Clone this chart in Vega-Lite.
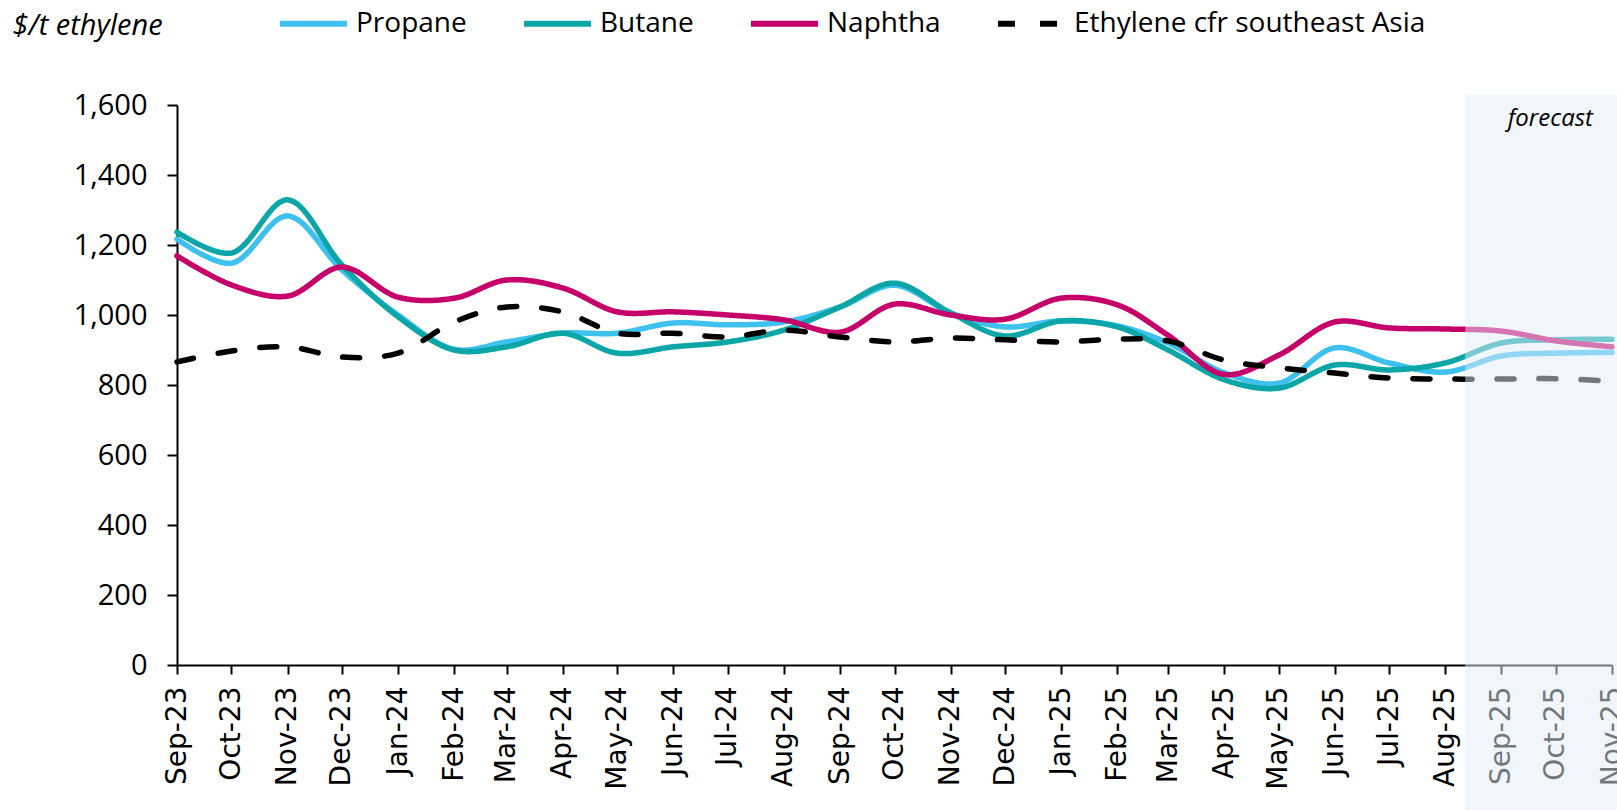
{
  "$schema": "https://vega.github.io/schema/vega-lite/v6.json",
  "autosize": "none",
  "width": 1435,
  "height": 560,
  "padding": {"left": 177, "top": 105, "right": 5, "bottom": 145},
  "background": "white",
  "config": {
    "view": {"stroke": null},
    "font": "Open Sans",
    "axis": {"grid": false, "domainColor": "#000000", "domainWidth": 2, "tickColor": "#000000", "tickWidth": 2, "labelColor": "#000000"},
    "axisX": {"labelFont": "DejaVu Sans", "labelFontSize": 28},
    "axisY": {"labelFont": "Open Sans", "labelFontSize": 29}
  },
  "resolve": {"axis": {"x": "independent", "y": "independent"}},
  "layer": [
    {
      "data": {"values": [
        {"d":"2023-09-01","s":"Propane","v":1217},{"d":"2023-10-01","s":"Propane","v":1148},{"d":"2023-11-01","s":"Propane","v":1283},{"d":"2023-12-01","s":"Propane","v":1129},{"d":"2024-01-01","s":"Propane","v":1000},{"d":"2024-02-01","s":"Propane","v":902},{"d":"2024-03-01","s":"Propane","v":923},{"d":"2024-04-01","s":"Propane","v":948},{"d":"2024-05-01","s":"Propane","v":948},{"d":"2024-06-01","s":"Propane","v":977},{"d":"2024-07-01","s":"Propane","v":972},{"d":"2024-08-01","s":"Propane","v":980},{"d":"2024-09-01","s":"Propane","v":1023},{"d":"2024-10-01","s":"Propane","v":1085},{"d":"2024-11-01","s":"Propane","v":1006},{"d":"2024-12-01","s":"Propane","v":966},{"d":"2025-01-01","s":"Propane","v":983},{"d":"2025-02-01","s":"Propane","v":969},{"d":"2025-03-01","s":"Propane","v":920},{"d":"2025-04-01","s":"Propane","v":835},{"d":"2025-05-01","s":"Propane","v":805},{"d":"2025-06-01","s":"Propane","v":906},{"d":"2025-07-01","s":"Propane","v":863},{"d":"2025-08-01","s":"Propane","v":837},{"d":"2025-09-01","s":"Propane","v":883},{"d":"2025-10-01","s":"Propane","v":891},{"d":"2025-11-01","s":"Propane","v":893},
        {"d":"2023-09-01","s":"Butane","v":1237},{"d":"2023-10-01","s":"Butane","v":1177},{"d":"2023-11-01","s":"Butane","v":1329},{"d":"2023-12-01","s":"Butane","v":1143},{"d":"2024-01-01","s":"Butane","v":995},{"d":"2024-02-01","s":"Butane","v":900},{"d":"2024-03-01","s":"Butane","v":909},{"d":"2024-04-01","s":"Butane","v":948},{"d":"2024-05-01","s":"Butane","v":891},{"d":"2024-06-01","s":"Butane","v":909},{"d":"2024-07-01","s":"Butane","v":923},{"d":"2024-08-01","s":"Butane","v":957},{"d":"2024-09-01","s":"Butane","v":1023},{"d":"2024-10-01","s":"Butane","v":1091},{"d":"2024-11-01","s":"Butane","v":1006},{"d":"2024-12-01","s":"Butane","v":940},{"d":"2025-01-01","s":"Butane","v":983},{"d":"2025-02-01","s":"Butane","v":966},{"d":"2025-03-01","s":"Butane","v":900},{"d":"2025-04-01","s":"Butane","v":815},{"d":"2025-05-01","s":"Butane","v":791},{"d":"2025-06-01","s":"Butane","v":857},{"d":"2025-07-01","s":"Butane","v":843},{"d":"2025-08-01","s":"Butane","v":863},{"d":"2025-09-01","s":"Butane","v":920},{"d":"2025-10-01","s":"Butane","v":929},{"d":"2025-11-01","s":"Butane","v":931},
        {"d":"2023-09-01","s":"Naphtha","v":1169},{"d":"2023-10-01","s":"Naphtha","v":1086},{"d":"2023-11-01","s":"Naphtha","v":1054},{"d":"2023-12-01","s":"Naphtha","v":1137},{"d":"2024-01-01","s":"Naphtha","v":1051},{"d":"2024-02-01","s":"Naphtha","v":1048},{"d":"2024-03-01","s":"Naphtha","v":1100},{"d":"2024-04-01","s":"Naphtha","v":1077},{"d":"2024-05-01","s":"Naphtha","v":1009},{"d":"2024-06-01","s":"Naphtha","v":1009},{"d":"2024-07-01","s":"Naphtha","v":1000},{"d":"2024-08-01","s":"Naphtha","v":986},{"d":"2024-09-01","s":"Naphtha","v":951},{"d":"2024-10-01","s":"Naphtha","v":1031},{"d":"2024-11-01","s":"Naphtha","v":1000},{"d":"2024-12-01","s":"Naphtha","v":988},{"d":"2025-01-01","s":"Naphtha","v":1048},{"d":"2025-02-01","s":"Naphtha","v":1029},{"d":"2025-03-01","s":"Naphtha","v":942},{"d":"2025-04-01","s":"Naphtha","v":830},{"d":"2025-05-01","s":"Naphtha","v":885},{"d":"2025-06-01","s":"Naphtha","v":980},{"d":"2025-07-01","s":"Naphtha","v":963},{"d":"2025-08-01","s":"Naphtha","v":960},{"d":"2025-09-01","s":"Naphtha","v":954},{"d":"2025-10-01","s":"Naphtha","v":926},{"d":"2025-11-01","s":"Naphtha","v":909},
        {"d":"2023-09-01","s":"Ethylene cfr southeast Asia","v":866},{"d":"2023-10-01","s":"Ethylene cfr southeast Asia","v":897},{"d":"2023-11-01","s":"Ethylene cfr southeast Asia","v":909},{"d":"2023-12-01","s":"Ethylene cfr southeast Asia","v":880},{"d":"2024-01-01","s":"Ethylene cfr southeast Asia","v":891},{"d":"2024-02-01","s":"Ethylene cfr southeast Asia","v":980},{"d":"2024-03-01","s":"Ethylene cfr southeast Asia","v":1023},{"d":"2024-04-01","s":"Ethylene cfr southeast Asia","v":1009},{"d":"2024-05-01","s":"Ethylene cfr southeast Asia","v":948},{"d":"2024-06-01","s":"Ethylene cfr southeast Asia","v":948},{"d":"2024-07-01","s":"Ethylene cfr southeast Asia","v":937},{"d":"2024-08-01","s":"Ethylene cfr southeast Asia","v":957},{"d":"2024-09-01","s":"Ethylene cfr southeast Asia","v":937},{"d":"2024-10-01","s":"Ethylene cfr southeast Asia","v":923},{"d":"2024-11-01","s":"Ethylene cfr southeast Asia","v":934},{"d":"2024-12-01","s":"Ethylene cfr southeast Asia","v":929},{"d":"2025-01-01","s":"Ethylene cfr southeast Asia","v":923},{"d":"2025-02-01","s":"Ethylene cfr southeast Asia","v":931},{"d":"2025-03-01","s":"Ethylene cfr southeast Asia","v":926},{"d":"2025-04-01","s":"Ethylene cfr southeast Asia","v":871},{"d":"2025-05-01","s":"Ethylene cfr southeast Asia","v":849},{"d":"2025-06-01","s":"Ethylene cfr southeast Asia","v":834},{"d":"2025-07-01","s":"Ethylene cfr southeast Asia","v":820},{"d":"2025-08-01","s":"Ethylene cfr southeast Asia","v":817},{"d":"2025-09-01","s":"Ethylene cfr southeast Asia","v":817},{"d":"2025-10-01","s":"Ethylene cfr southeast Asia","v":818},{"d":"2025-11-01","s":"Ethylene cfr southeast Asia","v":811}
      ]},
      "mark": {"type": "line", "strokeWidth": 5.5, "interpolate": "catmull-rom", "strokeCap": "round", "clip": false},
      "encoding": {
        "x": {
          "field": "d", "type": "temporal",
          "scale": {"type": "utc", "domain": [{"year": 2023, "month": 9, "date": 1, "utc": true}, {"year": 2025, "month": 11, "date": 1, "utc": true}], "nice": false},
          "axis": {"title": null, "labelExpr": "utcFormat(datum.value, '%b-%y')", "tickCount": {"interval": "month", "step": 1}, "labelAngle": 270, "labelAlign": "right", "labelBaseline": "middle", "labelFont": "DejaVu Sans", "labelFontSize": 28, "tickSize": 9, "labelPadding": 12, "labelOverlap": false, "labelBound": false, "labelFlush": false}
        },
        "y": {
          "field": "v", "type": "quantitative",
          "scale": {"domain": [0, 1600], "nice": false, "zero": true},
          "axis": {"values": [0, 200, 400, 600, 800, 1000, 1200, 1400, 1600], "format": ",.0f", "labelFont": "Open Sans", "labelFontSize": 29, "tickSize": 10, "labelPadding": 20,
            "title": "$/t ethylene", "titleFont": "Open Sans", "titleFontStyle": "italic", "titleFontWeight": "normal", "titleFontSize": 29, "titleAngle": 0, "titleAlign": "left", "titleBaseline": "middle", "titleX": -165, "titleY": -80, "titleColor": "#000000"}
        },
        "color": {"field": "s", "type": "nominal",
          "scale": {"domain": ["Propane", "Butane", "Naphtha", "Ethylene cfr southeast Asia"], "range": ["#3ec1ee", "#0ca6a9", "#c6006a", "#000000"]},
          "legend": {"title": null, "orient": "none", "direction": "horizontal", "legendX": 100, "legendY": -118, "symbolType": "stroke", "symbolSize": 4489, "symbolStrokeWidth": 6, "labelFont": "Open Sans", "labelFontSize": 28, "labelColor": "#000000", "labelOffset": 6, "columnPadding": 45, "labelLimit": 600}},
        "strokeDash": {"field": "s", "type": "nominal",
          "scale": {"domain": ["Propane", "Butane", "Naphtha", "Ethylene cfr southeast Asia"], "range": [[1, 0], [1, 0], [1, 0], [17, 25]]},
          "legend": null}
      }
    },
    {
      "data": {"values": [{}]},
      "mark": {"type": "rect", "fill": "#e4ebfa", "opacity": 0.5, "clip": false},
      "encoding": {
        "x": {"datum": {"year": 2025, "month": 8, "date": 12, "utc": true}, "type": "temporal", "axis": null},
        "x2": {"datum": {"year": 2025, "month": 11, "date": 5, "utc": true}},
        "y": {"datum": 1629, "type": "quantitative", "axis": null},
        "y2": {"datum": -420}
      }
    },
    {
      "data": {"values": [{}]},
      "mark": {"type": "text", "text": "forecast", "font": "Open Sans", "fontStyle": "italic", "fontSize": 24, "align": "right", "baseline": "middle", "dx": -19, "color": "#000000"},
      "encoding": {
        "x": {"datum": {"year": 2025, "month": 11, "date": 1, "utc": true}, "type": "temporal", "axis": null},
        "y": {"datum": 1560, "type": "quantitative", "axis": null}
      }
    }
  ]
}
